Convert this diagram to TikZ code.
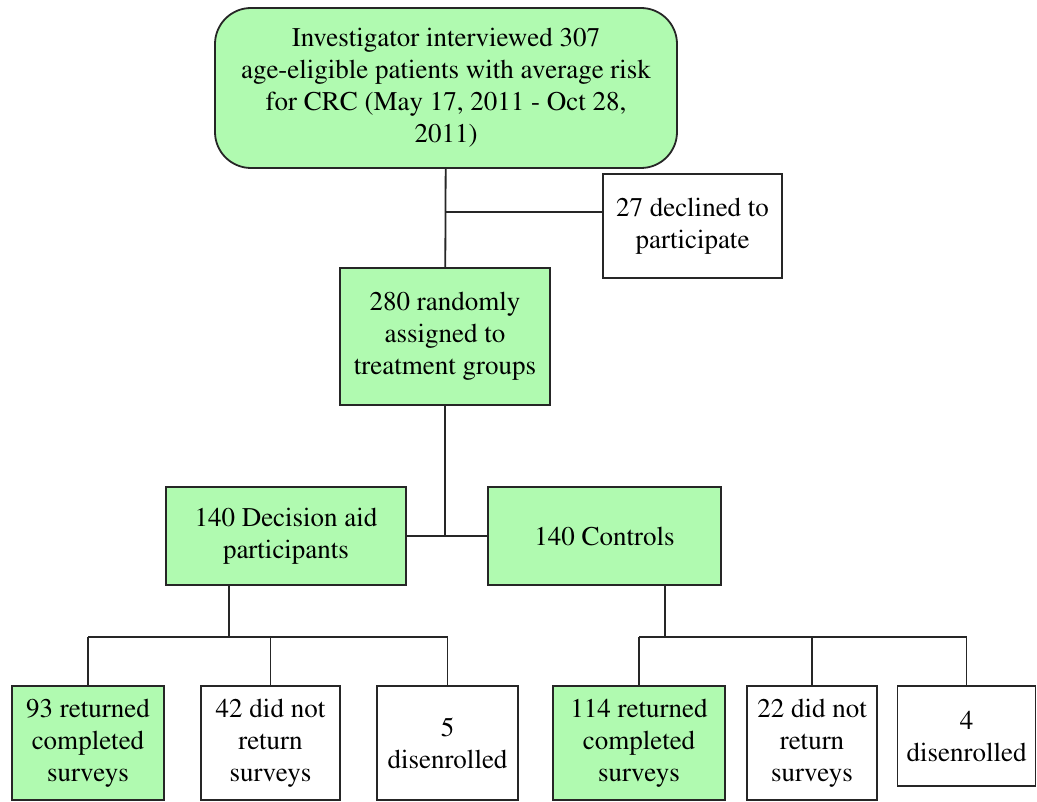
\documentclass[tikz,border=0pt]{standalone}
\usepackage[T1]{fontenc}
\usepackage{mathptmx}
\usepackage{tikz}
\definecolor{boxG}{RGB}{176,250,176}
\tikzstyle{edge}=[line width=1.8pt, black!85]
\tikzstyle{greenB}=[rectangle, fill=boxG, draw=black!85, line width=1.8pt, align=center, inner sep=0pt, font=\rmfamily\fontsize{27}{32}\selectfont]
\tikzstyle{whiteB}=[rectangle, fill=white, draw=black!85, line width=1.8pt, align=center, inner sep=0pt, font=\rmfamily\fontsize{27}{32}\selectfont]

\begin{document}
\begin{tikzpicture}[x=1pt, y=-1pt]
      \useasboundingbox (0,0) rectangle (1037,802);
      \node(0) [greenB, rounded corners=36pt, minimum width=462pt, minimum height=160pt] at (446, 88){Investigator interviewed 307\\age-eligible patients with average risk\\for CRC (May 17, 2011 - Oct 28,\\2011)};
      \node(1) [whiteB, minimum width=179pt, minimum height=104pt] at (692.5, 226){27 declined to\\participate};
      \node(2) [greenB, minimum width=210pt, minimum height=137pt] at (445, 336.5){280 randomly\\assigned to\\treatment groups};
      \node(3) [greenB, minimum width=240pt, minimum height=98pt] at (286, 536){140 Decision aid\\participants};
      \node(4) [greenB, minimum width=233pt, minimum height=98pt] at (604.5, 536){140 Controls};
      \node(5) [greenB, minimum width=152pt, minimum height=114pt] at (88, 743){93 returned\\completed\\surveys};
      \node(6) [whiteB, minimum width=139pt, minimum height=114pt] at (270.5, 743){42 did not\\return\\surveys};
      \node(7) [whiteB, minimum width=141pt, minimum height=114pt] at (447.5, 743){5\\disenrolled};
      \node(8) [greenB, minimum width=172pt, minimum height=114pt] at (639, 743){114 returned\\completed\\surveys};
      \node(9) [whiteB, minimum width=130pt, minimum height=114pt] at (812, 743){22 did not\\return\\surveys};
      \node(10) [whiteB, minimum width=138pt, minimum height=100pt] at (966.5, 736){4\\disenrolled};
      \coordinate(split) at (446, 212);
      \coordinate(busL) at (229, 637);
      \coordinate(busR) at (665, 637);
      \draw[edge] (0) to (2);
      \draw[edge] (split) to (split -| 1.west);
      \draw[edge] (2.south) to (2.south |- 3.east);
      \draw[edge] (3) to (4);
      \draw[edge] (busL |- 3.south) to (busL);
      \draw[edge] (5.north |- busL) to (7.north |- busL);
      \draw[edge] (5.north |- busL) to (5);
      \draw[edge] (6.north |- busL) to (6);
      \draw[edge] (7.north |- busL) to (7);
      \draw[edge] (busR |- 4.south) to (busR);
      \draw[edge] (8.north |- busR) to (10.north |- busR);
      \draw[edge] (8.north |- busR) to (8);
      \draw[edge] (9.north |- busR) to (9);
      \draw[edge] (10.north |- busR) to (10);
    \end{tikzpicture}
\end{document}
